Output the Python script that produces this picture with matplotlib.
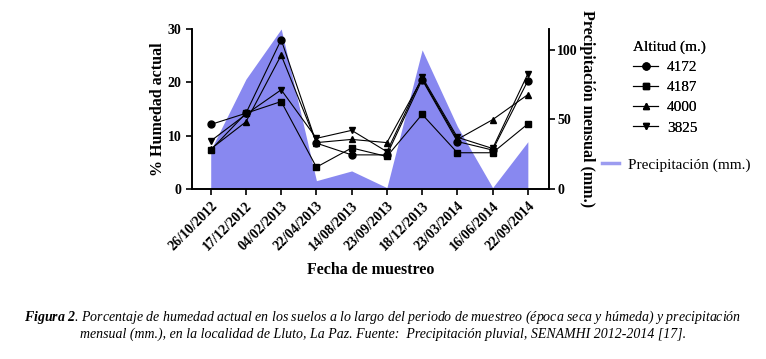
import numpy as np
import matplotlib
matplotlib.use('Agg')
import matplotlib.pyplot as plt
from matplotlib.lines import Line2D
from matplotlib.font_manager import FontProperties

plt.rcParams['font.family'] = ['Liberation Serif', 'DejaVu Serif']
plt.rcParams['mathtext.fontset'] = 'custom'
plt.rcParams['mathtext.bfit'] = 'Liberation Serif:italic:bold'
plt.rcParams['mathtext.rm'] = 'Liberation Serif'
plt.rcParams['mathtext.it'] = 'Liberation Serif:italic'
plt.rcParams['mathtext.bf'] = 'Liberation Serif:bold'

fechas = ['26/10/2012', '17/12/2012', '04/02/2013', '22/04/2013', '14/08/2013',
          '23/09/2013', '18/12/2013', '23/03/2014', '16/06/2014', '22/09/2014']

h4172 = [12.1, 14.2, 28.0, 8.6, 6.4, 6.4, 20.5, 8.9, 7.3, 20.3]
h4187 = [7.3, 14.2, 16.4, 4.1, 7.7, 6.1, 14.0, 6.8, 6.8, 12.2]
h4000 = [7.5, 12.6, 25.1, 8.7, 9.3, 8.7, 20.7, 9.3, 13.0, 17.7]
h3825 = [9.0, 14.0, 18.6, 9.5, 11.0, 7.0, 21.0, 9.7, 7.6, 21.6]

precip = [28, 79, 115, 6, 13, 1, 100, 45, 1, 34]

fig = plt.figure(figsize=(7.66, 3.59), dpi=100)
ax = fig.add_axes([0.2507, 0.4735, 0.466, 0.4457])
ax2 = ax.twinx()

x = np.arange(len(fechas))

ax2.fill_between(x, precip, 0, color='#8888f0', lw=0)
ax2.set_ylim(0, 115)
ax2.set_yticks([0, 50, 100])

ax.set_zorder(ax2.get_zorder() + 1)
ax.patch.set_visible(False)

kw = dict(color='black', lw=0.8, markersize=5)
l1, = ax.plot(x, h4172, marker='o', **kw)
l2, = ax.plot(x, h4187, marker='s', **kw)
l3, = ax.plot(x, h4000, marker='^', **kw)
l4, = ax.plot(x, h3825, marker='v', **kw)

ax.set_xlim(-0.53, 9.6)
ax.set_ylim(0, 30)
ax.set_yticks([0, 10, 20, 30])
ax.set_xticks(x)
ax.set_xticklabels(fechas, rotation=45, ha='right', rotation_mode='anchor',
                   fontsize=10, fontweight='bold')

for a in (ax, ax2):
    a.spines['top'].set_visible(False)
    for s in a.spines.values():
        s.set_linewidth(1.2)
    a.tick_params(direction='out', width=1.2, length=4, labelsize=10)
ax2.tick_params(pad=2)
for lab in ax.get_yticklabels() + ax2.get_yticklabels():
    lab.set_fontweight('bold')

ax.set_ylabel('% Humedad actual', fontsize=11.5, fontweight='bold')
ax.yaxis.set_label_coords(-0.072, 0.5)
ax2.set_ylabel('Precipitación mensual (mm.)', fontsize=11.5, fontweight='bold',
               rotation=-90, va='bottom')
ax2.yaxis.set_label_coords(1.085, 0.5)
ax.set_xlabel('Fecha de muestreo', fontsize=11.5, fontweight='bold', labelpad=6)

title_fp = FontProperties(family='Liberation Serif', weight='normal', size=11)
leg1 = fig.legend([l1, l2, l3, l4], ['4172', '4187', '4000', '3825'],
                  title='Altitud (m.)', loc='upper left',
                  bbox_to_anchor=(0.809, 0.925), frameon=False, fontsize=11,
                  title_fontproperties=title_fp,
                  handlelength=1.6, labelspacing=0.42,
                  alignment='left', handletextpad=0.6)
prec_handle = Line2D([], [], color='#9c9cf0', lw=2.5)
leg2 = fig.legend([prec_handle], ['Precipitación (mm.)'], loc='upper left',
                  bbox_to_anchor=(0.768, 0.598), frameon=False, fontsize=11,
                  handlelength=1.1, handletextpad=0.6)
fig.add_artist(leg1)

fig.text(0.5, 0.117,
         r'$\mathbfit{Figura\ 2}$' + '. Porcentaje de humedad actual en los suelos a lo largo del periodo de muestreo (época seca y húmeda) y precipitación',
         ha='center', va='center', fontsize=10, style='italic')
fig.text(0.5, 0.07,
         'mensual (mm.), en la localidad de Lluto, La Paz. Fuente:  Precipitación pluvial, SENAMHI 2012-2014 [17].',
         ha='center', va='center', fontsize=10, style='italic')

fig.savefig('out.png', dpi=100)
